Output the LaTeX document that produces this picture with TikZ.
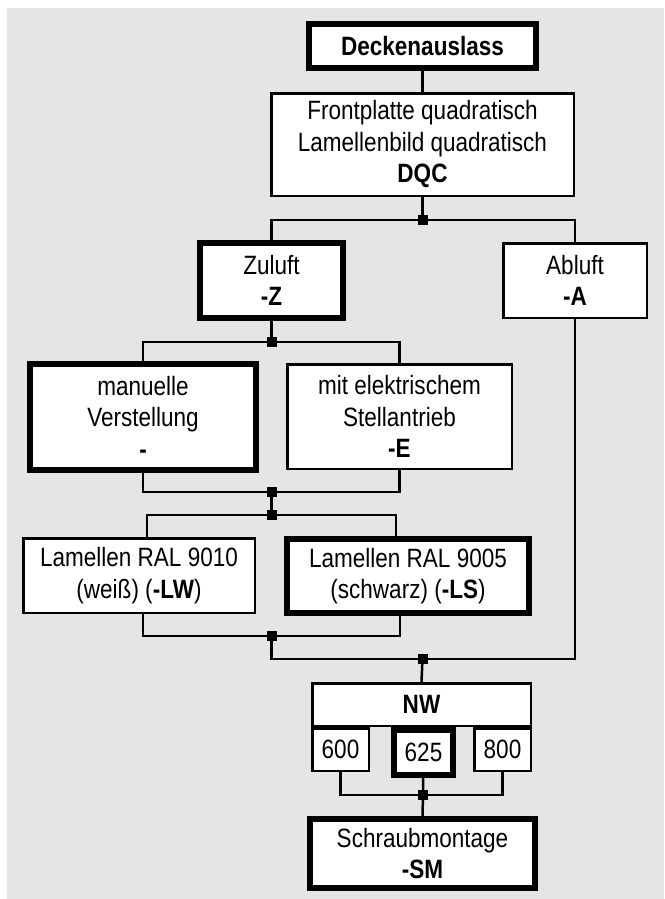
\documentclass[tikz,border=0pt]{standalone}
\usepackage{fontspec}
\setmainfont[FakeStretch=0.85]{Liberation Sans}
\definecolor{bg}{HTML}{E5E5E5}
\begin{document}
\begin{tikzpicture}[x=1pt,y=-1pt,
  box/.style={draw, fill=white, line width=2.5pt, align=center, inner sep=0pt,
    font=\fontsize{26.5}{31.5}\selectfont},
  thickbox/.style={box, line width=6pt},
  junc/.style={fill=black, minimum size=10pt, inner sep=0pt},
  conn/.style={line width=2.5pt}]
\useasboundingbox (0,0) rectangle (664,899);
\fill[bg] (7,8) rectangle (664,899);

\node[thickbox, minimum width=227pt, minimum height=44pt] (dek) at (422.5,46) {\textbf{Deckenauslass}};
\node[box, minimum width=302.5pt, minimum height=102.5pt] (front) at (422.5,144.5)
  {Frontplatte quadratisch\\Lamellenbild quadratisch\\\textbf{DQC}};
\node[thickbox, minimum width=143pt, minimum height=75pt] (zu) at (271.5,280.5) {Zuluft\\\textbf{-Z}};
\node[box, minimum width=143.5pt, minimum height=74.5pt] (ab) at (575,280.5) {Abluft\\\textbf{-A}};
\node[thickbox, minimum width=226pt, minimum height=106pt] (man) at (143,417) {manuelle\\Verstellung\\\textbf{-}};
\node[box, minimum width=224.5pt, minimum height=104.5pt] (el) at (399.5,416.5) {mit elektrischem\\Stellantrieb\\\textbf{-E}};
\node[box, minimum width=231.5pt, minimum height=74.5pt] (lw) at (139,575.5) {Lamellen RAL 9010\\(weiß) (\textbf{-LW})};
\node[thickbox, minimum width=242pt, minimum height=74pt] (ls) at (408,576) {Lamellen RAL 9005\\(schwarz) (\textbf{-LS})};
\node[box, minimum width=218.5pt, minimum height=42.5pt] (nw) at (421.5,704.5) {\textbf{NW}};
\node[box, minimum width=56.5pt, minimum height=42.5pt] (n600) at (340.5,749.5) {600};
\node[thickbox, minimum width=59pt, minimum height=45pt] (n625) at (423.5,752.5) {625};
\node[box, minimum width=56.5pt, minimum height=42.5pt] (n800) at (502.5,749.5) {800};
\node[thickbox, minimum width=225pt, minimum height=69pt] (sm) at (422.5,853.5) {Schraubmontage\\\textbf{-SM}};

\node[junc] (j1) at (422.5,220) {};
\node[junc] (j2) at (271.5,342) {};
\node[junc] (j3) at (271.5,492) {};
\node[junc] (j4) at (271.5,515) {};
\node[junc] (j5) at (271.5,636) {};
\node[junc] (j6) at (422.5,659) {};
\node[junc] (j7) at (423,795) {};

\draw[conn] (dek) -- (front);
\draw[conn] (front) -- (j1.center);
\draw[conn] (zu.north) |- (j1.center) -| (ab.north);
\draw[conn] (zu.south) -- (j2.center);
\draw[conn] (man.north) |- (j2.center) -| (el.north);
\draw[conn] (man.south) |- (j3.center) -| (el.south);
\draw[conn] (j3.center) -- (j4.center);
\draw[conn] ([xshift=8pt]lw.north) |- (j4.center) -| ([xshift=-12pt]ls.north);
\draw[conn] ([xshift=4pt]lw.south) |- (j5.center) -| ([xshift=-8pt]ls.south);
\draw[conn] (j5.center) |- (j6.center) -| (ab.south);
\draw[conn] (j6.center) -- (nw.north);
\draw[conn] (n600.south) |- (j7.center) -| (n800.south);
\draw[conn] (n625) -- (j7.center);
\draw[conn] (j7.center) -- (sm.north);
\end{tikzpicture}
\end{document}
